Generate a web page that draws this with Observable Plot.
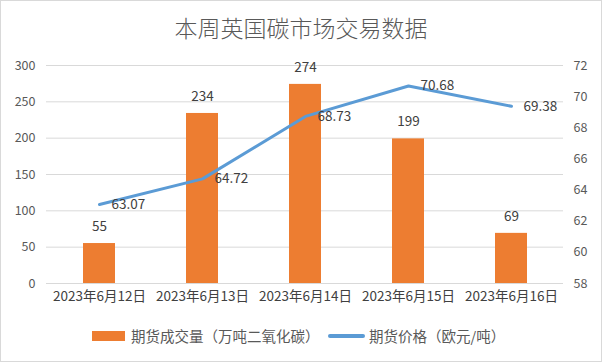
<!DOCTYPE html>
<html><head><meta charset="utf-8">
<script src="https://cdn.jsdelivr.net/npm/d3@7"></script>
<script src="https://cdn.jsdelivr.net/npm/@observablehq/plot@0.6"></script>
<style>
body{margin:0;background:#fff;font-family:"Noto Sans CJK SC","Noto Sans",sans-serif;}
#wrap{position:relative;width:600px;height:360px;border:1px solid #d9d9d9;background:#fff;overflow:hidden;}
#title{position:absolute;top:12px;left:0;width:600px;text-align:center;font-size:23px;line-height:28px;color:#595959;font-weight:300;white-space:nowrap;}
#chart{position:absolute;top:52px;left:0;}
.lg{position:absolute;font-size:14.5px;line-height:20px;color:#595959;white-space:nowrap;}
</style></head>
<body><div id="wrap"><div id="title">本周英国碳市场交易数据</div><div id="chart"></div>
<div style="position:absolute;left:91px;top:330px;width:33px;height:10px;background:#ED7D31"></div>
<div class="lg" style="left:130px;top:325px">期货成交量（万吨二氧化碳）</div>
<div style="position:absolute;left:327px;top:333px;width:37px;height:4px;border-radius:2px;background:#5B9BD5"></div>
<div class="lg" style="left:368px;top:325px">期货价格（欧元/吨）</div>
</div>
<script>
const categories = ["2023年6月12日","2023年6月13日","2023年6月14日","2023年6月15日","2023年6月16日"];
const volume = [55, 234, 274, 199, 69];
const price = [63.07, 64.72, 68.73, 70.68, 69.38];
const leftTicks = [0, 50, 100, 150, 200, 250, 300];
const rightTicks = [58, 60, 62, 64, 66, 68, 70, 72];
const rMin = 58, rMax = 72, lMax = 300;
const toLeft = v => (v - rMin) / (rMax - rMin) * lMax;
const fromLeft = y => y / lMax * (rMax - rMin) + rMin;
const data = categories.map((c, i) => ({c, v: volume[i], p: price[i], py: toLeft(price[i])}));
const font = "Noto Sans CJK SC";
const plot = Plot.plot({
  width: 600, height: 255,
  marginLeft: 45, marginRight: 38, marginTop: 12, marginBottom: 25,
  style: {fontFamily: font, color: "#595959", background: "transparent"},
  x: {type: "band", domain: categories, paddingInner: 0.69, paddingOuter: 0.345, label: null},
  y: {domain: [0, lMax], label: null},
  marks: [
    Plot.gridY(leftTicks, {stroke: "#d9d9d9", strokeOpacity: 1}),
    Plot.axisY({ticks: leftTicks, tickSize: 0, tickPadding: 11, fontSize: 12.5, label: null, fill: "#595959"}),
    Plot.axisY({anchor: "right", ticks: rightTicks.map(toLeft), tickFormat: d => String(Math.round(fromLeft(d))), tickSize: 0, tickPadding: 10, fontSize: 12.5, label: null, fill: "#595959"}),
    Plot.barY(data, {x: "c", y: "v", fill: "#ED7D31"}),
    Plot.ruleY([0], {stroke: "#d9d9d9"}),
    Plot.axisX({tickSize: 0, tickPadding: 8, fontSize: 13.5, label: null, fill: "#404040"}),
    Plot.text(data, {x: "c", y: "v", text: d => String(d.v), dy: -17, fontSize: 13.5, fill: "#404040"}),
    Plot.line(data, {x: "c", y: "py", stroke: "#5B9BD5", strokeWidth: 3, strokeLinecap: "round"}),
    Plot.text(data, {x: "c", y: "py", text: d => d.p.toFixed(2), dx: 12, dy: 0, textAnchor: "start", fontSize: 13.5, fill: "#404040"})
  ]
});
document.getElementById("chart").appendChild(plot);
</script></body></html>
